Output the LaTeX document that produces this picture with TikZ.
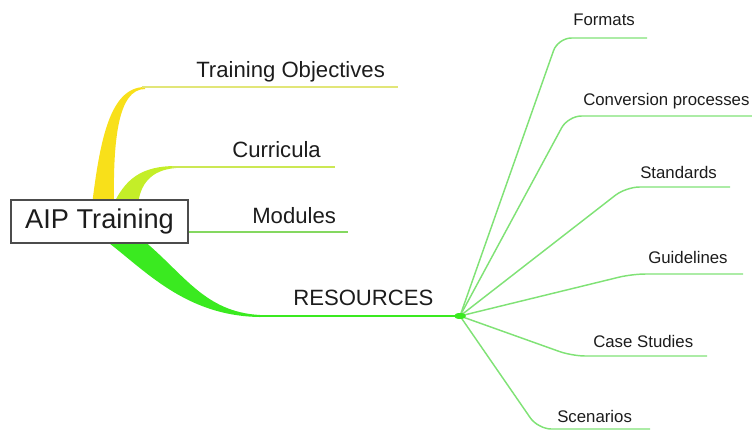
\documentclass[tikz,border=0pt]{standalone}
\usepackage{fontspec}
\setmainfont{Liberation Sans}
\usetikzlibrary{positioning}

\definecolor{objyellow}{RGB}{248,224,26}
\definecolor{curgreen}{RGB}{196,238,40}
\definecolor{resgreen}{RGB}{58,234,32}
\definecolor{objline}{RGB}{226,230,120}
\definecolor{curline}{RGB}{204,232,84}
\definecolor{modline}{RGB}{132,216,96}
\definecolor{twiggreen}{RGB}{128,226,118}
\definecolor{ink}{RGB}{28,28,28}

\begin{document}
\begin{tikzpicture}[
  x = 0.75pt, y = -0.75pt,
  box/.style = {draw=black!70,fill=white,line width=0.9pt,inner sep=0pt,
    minimum width=132.75pt,minimum height=32.25pt,text=ink,
    font=\fontsize{20.4}{24}\selectfont},
  big/.style = {anchor=base west,inner sep=0pt,text=ink,font=\fontsize{16.6}{20}\selectfont},
  small/.style = {anchor=base west,inner sep=0pt,text=ink,font=\fontsize{12.6}{15}\selectfont},
  stem/.style = {line width=0.9pt},
  twig/.style = {draw=twiggreen,line width=1.1pt,rounded corners=10pt}
  ]
  \useasboundingbox (0,0) rectangle (752,430);

  \coordinate (@obj-l) at (142,87);
  \coordinate (@obj-r) at (398,87);
  \coordinate (@cur-l) at (172,167);
  \coordinate (@cur-r) at (335,167);
  \coordinate (@mod-r) at (348,232);
  \coordinate (@res-l) at (255,316);
  \coordinate (@hub) at (460,316);

  % tapered stems out of the root box
  \fill[objyellow] (92,205) .. controls (100,140) and (110,87) .. (145,87)
    -- (145,89) .. controls (118,89) and (113,140) .. (114,205) -- cycle;
  \fill[curgreen] (113,205) .. controls (125,180) and (140,166) .. (176,166)
    -- (176,168) .. controls (150,170) and (140,185) .. (138,205) -- cycle;
  \fill[resgreen] (105,240) .. controls (145,270) and (185,316) .. (260,317)
    -- (260,315) .. controls (205,312) and (185,275) .. (143,240) -- cycle;

  \node[box] (@aip) at (99.5,221.5) {AIP Training};

  \node[big] (@obj) at (196,77) {Training Objectives};
  \node[big] (@cur) at (232,157) {Curricula};
  \node[big] (@mod) at (252,223) {Modules};
  \node[big] (@res) at (293,305) {RESOURCES};

  \draw[stem,objline] (@obj-l) -- (@obj-r);
  \draw[stem,curline] (@cur-l) -- (@cur-r);
  \draw[stem,modline] (@aip.east |- @mod-r) -- (@mod-r);
  \draw[resgreen,line width=1.3pt] (@res-l) -- (@hub);

  \node[small] (@fmt) at (573,25) {Formats};
  \node[small] (@conv) at (583,105) {Conversion processes};
  \node[small] (@std) at (640,178) {Standards};
  \node[small] (@gdl) at (648,263) {Guidelines};
  \node[small] (@case) at (593,347) {Case Studies};
  \node[small] (@scn) at (557,422) {Scenarios};

  \coordinate (@fmt-r) at (647,38);
  \coordinate (@conv-r) at (752,116);
  \coordinate (@std-r) at (730,187);
  \coordinate (@gdl-r) at (743,274);
  \coordinate (@case-r) at (707,356);
  \coordinate (@scn-r) at (650,429);

  \draw[twig] (@hub) -- (558,38) -- (@fmt-r);
  \draw[twig] (@hub) -- (568,116) -- (@conv-r);
  \draw[twig] (@hub) -- (626,187) -- (@std-r);
  \draw[twig] (@hub) -- (632,274) -- (@gdl-r);
  \draw[twig] (@hub) -- (572,356) -- (@case-r);
  \draw[twig] (@hub) -- (538,429) -- (@scn-r);
  \fill[resgreen] (@hub) ellipse (6 and 3);
\end{tikzpicture}
\end{document}
